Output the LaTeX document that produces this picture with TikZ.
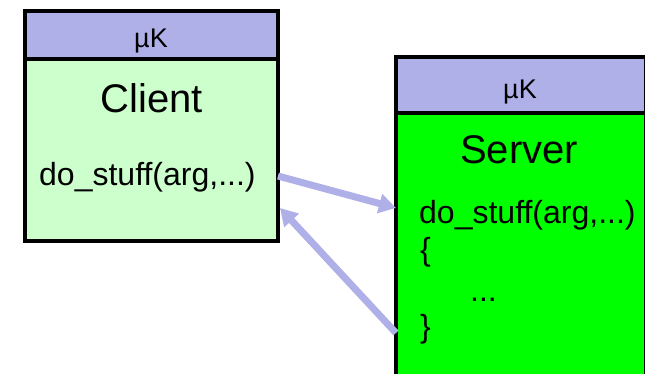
\documentclass[tikz,border=0pt]{standalone}
\usepackage{fontspec}
\setmainfont{Liberation Sans}
\usetikzlibrary{positioning, arrows.meta}

\definecolor{mkhead}{RGB}{176,176,232}
\definecolor{clientbg}{RGB}{204,255,204}
\definecolor{serverbg}{RGB}{0,255,0}

\begin{document}
\begin{tikzpicture}[x=1pt, y=-1pt,
      head/.style={draw, line width=3.5pt, fill=mkhead, outer sep=0pt, inner sep=0pt},
      body/.style={draw, line width=3.5pt, outer sep=0pt, inner sep=0pt},
      big/.style={font=\fontsize{40}{48}\selectfont, inner sep=0pt},
      code/.style={font=\fontsize{32}{38}\selectfont, inner sep=0pt},
      lbl/.style={font=\fontsize{27}{32}\selectfont, inner sep=0pt},
      link/.style={draw=mkhead, line width=7pt, -{Triangle[length=17pt, width=19pt]}}
    ]
    \clip (0,0) rectangle (645,373);

    % Client-Seite
    \node[head, minimum width=253pt, minimum height=48pt] (chead) at (151.5,35) {};
    \node[body, fill=clientbg, minimum width=253pt, minimum height=182pt, below=0pt of chead] (cbody) {};
    \node[lbl, anchor=base] (ckern) at (151,47) {µK};
    \node[big, anchor=base] (ctitle) at (151.5,112) {Client};
    \node[code, anchor=base west] (ccall) at (39,185) {do\_stuff(arg,...)};

    % Server-Seite (rechts und unten abgeschnitten)
    \node[head, minimum width=250pt, minimum height=56pt] (shead) at (521,85) {};
    \node[body, fill=serverbg, minimum width=250pt, minimum height=288pt, below=0pt of shead] (sbody) {};
    \node[lbl, anchor=base] (skern) at (520,98) {µK};
    \node[big, anchor=base] (stitle) at (519,163) {Server};
    \node[code, anchor=base west] (sdef) at (419,223) {do\_stuff(arg,...)};
    \node[code, anchor=base west] (sopen) at (420,260.5) {\{};
    \node[code, anchor=base west] (sdots) at (470,301) {...};
    \node[code, anchor=base west] (sclose) at (420,337) {\}};

    % Aufruf und Rueckkehr
    \draw[link] ([yshift=-26pt]cbody.east) -- ([yshift=49pt]sbody.west);
    \draw[link] ([yshift=-76pt]sbody.west) -- ([xshift=2pt, yshift=-58pt]cbody.east);
  \end{tikzpicture}
\end{document}
